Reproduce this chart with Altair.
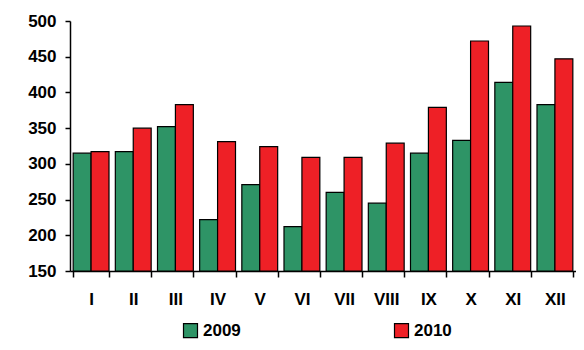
import altair as alt
import pandas as pd

months = ["I", "II", "III", "IV", "V", "VI", "VII", "VIII", "IX", "X", "XI", "XII"]
y2009 = [315, 317, 352, 222, 271, 212, 260, 245, 315, 333, 414, 383]
y2010 = [317, 350, 383, 331, 324, 309, 309, 329, 379, 472, 493, 447]
years = ["2009", "2010"]
colors = ["#2E9466", "#EE2026"]
yticks = [150, 200, 250, 300, 350, 400, 450, 500]

rows = []
for m, a, b in zip(months, y2009, y2010):
    rows.append({"month": m, "year": years[0], "value": a})
    rows.append({"month": m, "year": years[1], "value": b})
df = pd.DataFrame(rows)

FONT = "Liberation Sans"

chart = alt.Chart(df).mark_bar(stroke="black", strokeWidth=1.2).encode(
    x=alt.X("month:N", sort=months, title=None,
            scale=alt.Scale(paddingInner=0.15, paddingOuter=0.075),
            axis=alt.Axis(labelAngle=0, tickBand="extent", tickSize=6, labelPadding=14,
                          labelFont=FONT, labelFontSize=17, labelFontWeight="bold",
                          labelColor="black", domainColor="black", domainWidth=1.5,
                          tickColor="black", tickWidth=1.5, grid=False)),
    xOffset=alt.XOffset("year:N", sort=years, scale=alt.Scale(paddingInner=0, paddingOuter=0)),
    y=alt.Y("value:Q", title=None,
            scale=alt.Scale(domain=[150, 500], zero=False, nice=False),
            axis=alt.Axis(values=yticks, tickSize=5, labelPadding=9,
                          labelFont=FONT, labelFontSize=17, labelFontWeight="bold",
                          labelColor="black", domainColor="black", domainWidth=1.5,
                          tickColor="black", tickWidth=1.5, grid=False)),
    y2=alt.datum(150),
    color=alt.Color("year:N", sort=years,
                    scale=alt.Scale(domain=years, range=colors),
                    legend=alt.Legend(title=None, orient="none", legendX=112, legendY=301,
                                      direction="horizontal", symbolType="square",
                                      symbolSize=196, symbolStrokeColor="black",
                                      symbolStrokeWidth=1.2, symbolOpacity=1,
                                      labelFont=FONT, labelFontSize=17, labelFontWeight="bold",
                                      labelColor="black", labelOffset=4, columnPadding=151)),
).properties(
    width=506, height=250,
    autosize=alt.AutoSizeParams(type="none"),
    padding={"left": 62, "top": 13, "right": 0, "bottom": 71},
).configure_view(stroke=None)

chart.save("out.html", embed_options={"renderer": "svg", "actions": False})
